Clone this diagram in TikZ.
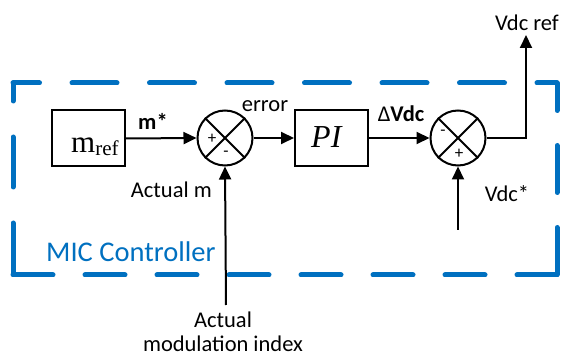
\documentclass[tikz,border=0pt]{standalone}
\usepackage{fontspec}
\setmainfont{Carlito}
\newfontfamily\tms{Liberation Serif}
\usetikzlibrary{arrows.meta}
\definecolor{micblue}{HTML}{0070C0}
\begin{document}
\begin{tikzpicture}[x=1pt,y=-1pt,
 blk/.style={draw,line width=2pt,minimum width=73pt,minimum height=56pt,inner sep=0pt},
 sumc/.style={draw,circle,line width=2pt,minimum size=55pt,inner sep=0pt},
 sig/.style={line width=2pt,-{Triangle[length=13pt,width=12pt]}},
 wire/.style={line width=2pt},
 lbl/.style={font=\fontsize{22.5}{24}\selectfont,inner sep=0pt},
 sgn/.style={font=\fontsize{17}{17}\selectfont,inner sep=0pt},
 frame/.style={micblue,line width=5pt,line cap=round}]
\useasboundingbox (0,0) rectangle (563,358);
% MIC controller frame
\coordinate (tl) at (13,83);
\coordinate (tr) at (557,83);
\coordinate (bl) at (13,275);
\coordinate (br) at (557,275);
\draw[frame,dash pattern=on 45pt off 32.5pt,dash phase=18.5pt] (tl) -- (tr);
\draw[frame,dash pattern=on 40pt off 32pt] (bl) -- (br);
\draw[frame,dash pattern=on 50pt off 36pt,dash phase=32pt] (tl) -- (bl);
\draw[frame,dash pattern=on 47pt off 35pt,dash phase=19.5pt] (tr) -- (br);
\node[lbl,anchor=base west,text=micblue,font=\fontsize{28.5}{30}\selectfont] (mic) at (46,262) {MIC Controller};

% blocks
\node[blk] (mref) at (88.5,138.5) {};
\node[anchor=base west,inner sep=0pt] (mreft) at (71,153)
  {\tms\fontsize{31}{31}\selectfont m\fontsize{21}{21}\selectfont\raisebox{-3pt}{ref}};
\node[sumc] (s1) at (225,138) {};
\node[blk] (pi) at (331.5,138) {};
\node[anchor=base west,inner sep=0pt] (pit) at (311,148)
  {\tms\fontsize{32}{32}\selectfont\itshape PI};
\node[sumc] (s2) at (458,138) {};

% crosses
\draw[wire] (s1.45) -- (s1.225) (s1.135) -- (s1.315);
\draw[wire] (s2.45) -- (s2.225) (s2.135) -- (s2.315);

% signs
\node[sgn] (s1p) at (212,139) {+};
\node[sgn] (s1m) at (226,154) {-};
\node[sgn] (s2m) at (443,133) {-};
\node[sgn] (s2p) at (459,154) {+};

% connectors
\draw[sig] (mref.east) -- (s1.west);
\draw[sig] (s1.east) -- (pi.west);
\draw[sig] (pi.east) -- (s2.west);
\coordinate (vref) at (526,35);
\draw[sig] (s2.east) -| (vref);
\coordinate (am) at (226,305);
\draw[sig] (am) -- (s1.south);
\coordinate (vs) at (458,230);
\draw[sig] (vs) -- (s2.south);

% labels
\node[lbl,anchor=base,font=\fontsize{22.5}{24}\selectfont\bfseries] (mstar) at (153,130) {m*};
\node[lbl,anchor=base] (err) at (265,112) {error};
\node[lbl,anchor=base] (dv) at (401,122) {Δ\textbf{Vdc}};
\node[lbl,anchor=base] (vreft) at (527,31) {Vdc ref};
\node[lbl,anchor=base] (vst) at (507,202) {Vdc*};
\node[lbl,anchor=base east] (amt) at (212,198) {Actual m};
\node[lbl,anchor=north,align=center] (amit) at (223,312) {Actual\\modulation index};
\end{tikzpicture}
\end{document}
